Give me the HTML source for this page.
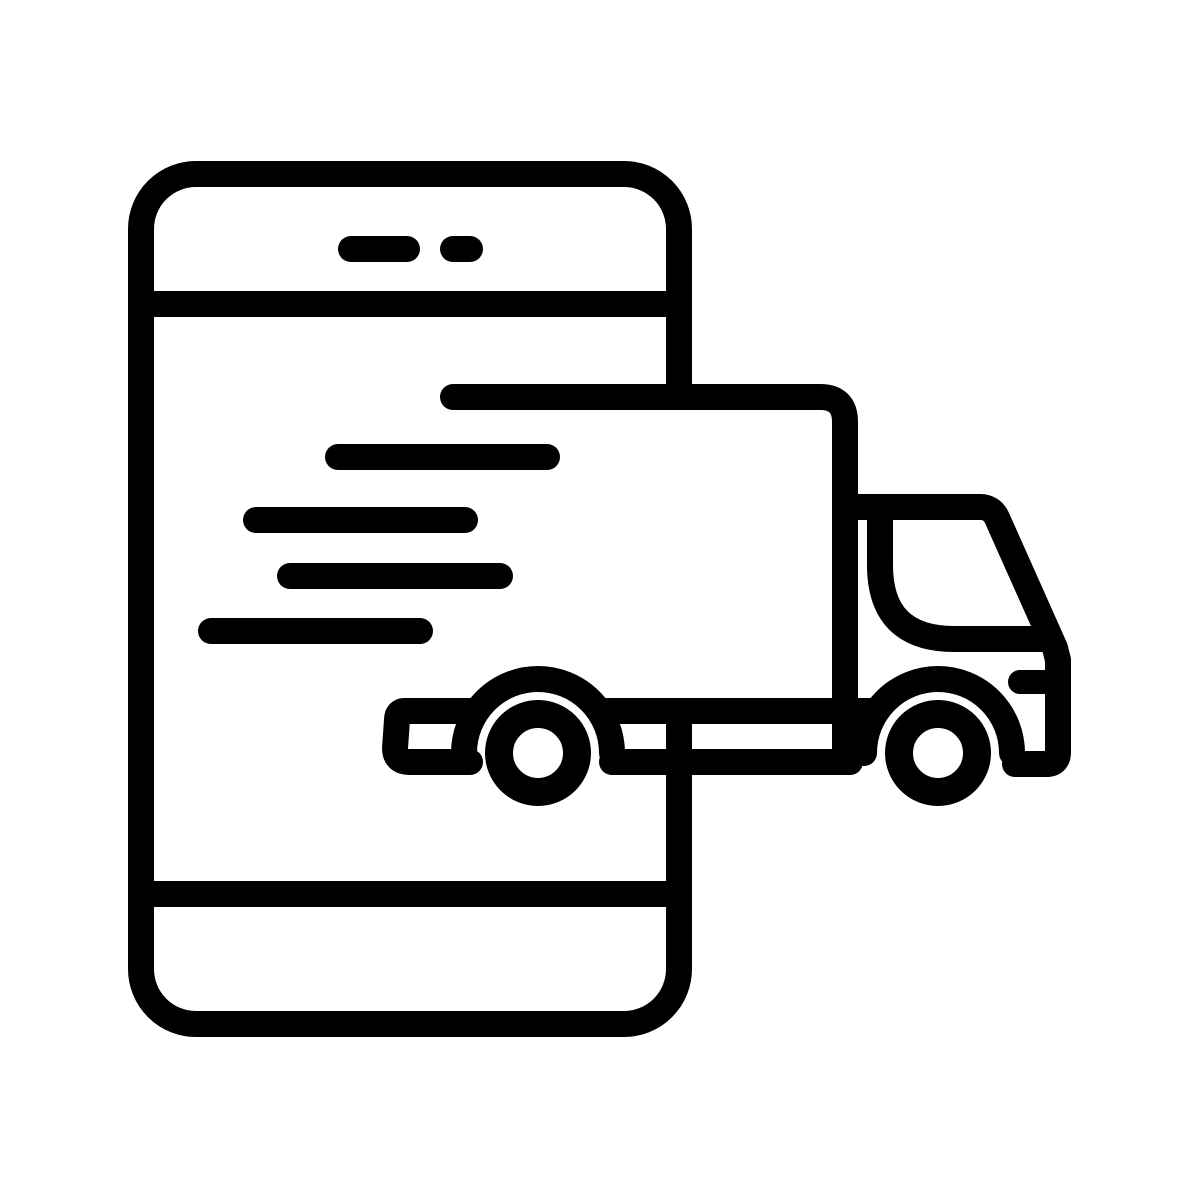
<!DOCTYPE html>
<html><head><meta charset="utf-8"><style>html,body{margin:0;padding:0;background:#fff}svg{display:block}</style></head>
<body>
<svg width="1200" height="1200" viewBox="0 0 1200 1200" xmlns="http://www.w3.org/2000/svg">
<rect width="1200" height="1200" fill="#fff"/>
<g fill="none" stroke="#000" stroke-width="26" stroke-linecap="round" stroke-linejoin="round">
  <rect x="141" y="174" width="538" height="850" rx="55" ry="55"/>
  <line x1="141" y1="304" x2="679" y2="304"/>
  <line x1="141" y1="894" x2="679" y2="894"/>
  <line x1="351" y1="249" x2="407" y2="249"/>
  <line x1="453" y1="249" x2="470" y2="249"/>
  <line x1="338" y1="457" x2="547" y2="457"/>
  <line x1="256" y1="520" x2="465" y2="520"/>
  <line x1="290" y1="576" x2="500" y2="576"/>
  <line x1="211" y1="631" x2="420" y2="631"/>
  <rect x="655" y="405" width="180" height="295" fill="#fff" stroke="none"/>
  <path d="M453 397 L820 397 Q845 397 845 422 L845 762"/>
  <line x1="600" y1="711" x2="845" y2="711"/>
  <path d="M476 711 L405 711 Q397 711 397 720 L395 748 Q395 762 410 762 L470 762"/>
  <path d="M464 753 A74 74 0 0 1 612 753"/>
  <circle cx="538" cy="753" r="39" stroke-width="28"/>
  <line x1="612" y1="762" x2="850" y2="762"/>
  <path d="M845 507 L980 507 Q992 507 997 518 L1055 648 L1058 660 L1058 752 Q1058 764 1046 764 L1015 764"/>
  <path d="M880 515 L880 565 Q880 639 954 639 L1043 639"/>
  <line x1="1020" y1="682" x2="1058" y2="682" stroke-width="24"/>
  <path d="M864 753 A74 74 0 0 1 1012 753"/>
  <line x1="845" y1="711" x2="877" y2="711"/>
  <circle cx="938" cy="753" r="39" stroke-width="28"/>
</g>
</svg>
</body></html>
